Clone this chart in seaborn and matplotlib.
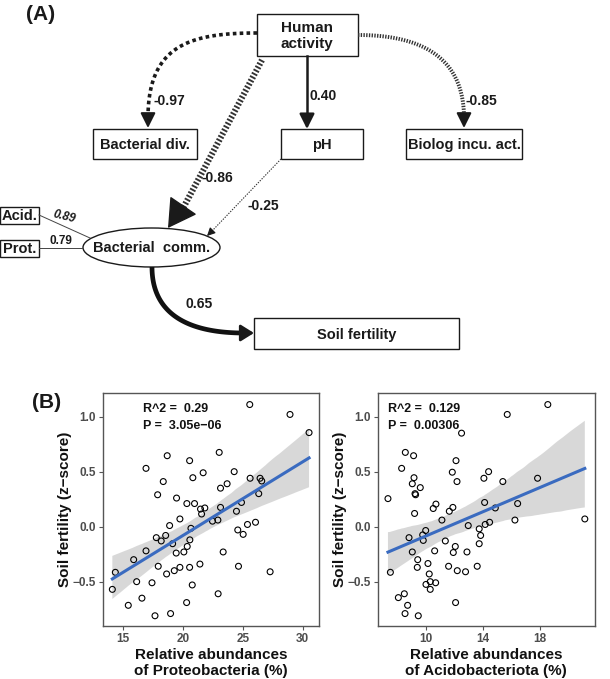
import numpy as np
import pandas as pd
import matplotlib
matplotlib.use("Agg")
import matplotlib.pyplot as plt
import seaborn as sns
from matplotlib.patches import Rectangle, Ellipse

# ---- data ----
# panel B left: Proteobacteria (%) vs soil fertility
prot_x = [14.11, 14.36, 15.44, 15.89, 16.14, 16.58, 16.92, 16.92, 17.42, 17.67,
          17.78, 17.89, 17.94, 18.19, 18.36, 18.56, 18.64, 18.69, 18.89, 18.97,
          19.14, 19.28, 19.44, 19.47, 19.75, 19.75, 20.08, 20.31, 20.33, 20.36,
          20.56, 20.56, 20.58, 20.67, 20.78, 20.83, 20.97, 21.42, 21.47, 21.56,
          21.69, 21.83, 22.47, 22.92, 22.94, 23.03, 23.14, 23.14, 23.36, 23.69,
          24.28, 24.47, 24.58, 24.64, 24.89, 25.03, 25.39, 25.58, 25.61, 26.06,
          26.33, 26.44, 26.58, 27.28, 28.94, 30.53]
prot_y = [-0.57, -0.415, -0.715, -0.30, -0.50, -0.65, 0.53, -0.22, -0.51, -0.81,
          -0.10, 0.29, -0.36, -0.13, 0.41, -0.08, -0.43, 0.645, 0.01, -0.79,
          -0.155, -0.40, -0.24, 0.26, -0.37, 0.07, -0.23, -0.69, 0.21, -0.18,
          0.60, -0.37, -0.12, -0.015, -0.53, 0.445, 0.21, -0.34, 0.16, 0.115,
          0.49, 0.17, 0.05, 0.06, -0.61, 0.675, 0.35, 0.175, -0.23, 0.39,
          0.50, 0.14, -0.03, -0.36, 0.22, -0.07, 0.02, 1.11, 0.44, 0.04,
          0.30, 0.44, 0.415, -0.41, 1.02, 0.855]

# panel B right: Acidobacteriota (%) vs soil fertility
acid_x = [7.33, 7.50, 8.06, 8.29, 8.48, 8.53, 8.55, 8.71, 8.81, 9.04,
          9.13, 9.16, 9.04, 9.20, 9.23, 9.27, 9.42, 9.39, 9.46, 9.60,
          9.77, 9.81, 9.98, 10.00, 10.14, 10.23, 10.30, 10.30, 10.51, 10.61,
          10.68, 10.70, 11.12, 11.36, 11.59, 11.64, 11.85, 11.89, 11.92, 12.06,
          12.08, 12.11, 12.18, 12.20, 12.50, 12.78, 12.88, 12.97, 13.60, 13.74,
          13.74, 13.84, 14.07, 14.12, 14.16, 14.40, 14.47, 14.87, 15.40, 15.71,
          16.25, 16.44, 17.84, 18.56, 21.16]
acid_y = [0.255, -0.415, -0.645, 0.53, -0.61, -0.79, 0.675, -0.715, -0.10, -0.23,
          0.645, 0.445, 0.39, 0.12, 0.30, 0.29, -0.30, -0.37, -0.81, 0.355,
          -0.075, -0.125, -0.035, -0.525, -0.335, -0.43, -0.50, -0.57, 0.165, -0.22,
          -0.51, 0.205, 0.06, -0.13, -0.36, 0.14, 0.495, 0.175, -0.235, -0.18,
          -0.69, 0.60, 0.41, -0.40, 0.85, -0.41, -0.23, 0.01, -0.36, -0.155,
          -0.02, -0.08, 0.44, 0.22, 0.02, 0.50, 0.04, 0.17, 0.41, 1.02,
          0.06, 0.21, 0.44, 1.11, 0.07]

stats_text = ["R^2 =  0.29\nP =  3.05e\u221206", "R^2 =  0.129\nP =  0.00306"]

# panel A: path coefficients
coef_labels = {"hum_div": "-0.97", "hum_ph": "0.40", "hum_bio": "-0.85",
               "hum_comm": "-0.86", "ph_comm": "-0.25", "acid": "0.89",
               "prot": "0.79", "comm_soil": "0.65"}

# ---- figure ----
W, H = 610, 679
fig = plt.figure(figsize=(W / 100, H / 100), dpi=100)
FONT = ["Liberation Sans", "DejaVu Sans"]
INK = "#1a1a1a"

# ---------------- panel A (diagram, pixel coords) ----------------
axA = fig.add_axes([0, 1 - 360 / H, 1, 360 / H])
axA.set_xlim(0, W)
axA.set_ylim(360, 0)
axA.axis("off")

# boxes: (cx, cy, w, h, label)
boxes = {
    "hum": (307, 35, 101, 42, "Human\nactivity"),
    "div": (145, 144, 104, 30, "Bacterial div."),
    "ph": (322, 144, 82, 30, "pH"),
    "bio": (464, 144, 116, 30, "Biolog incu. act."),
    "acid": (19.5, 215.5, 39, 17, "Acid."),
    "prot": (19.5, 248, 39, 17, "Prot."),
    "soil": (356.5, 333.5, 205, 31, "Soil fertility"),
}
for key, (cx, cy, w, h, lab) in boxes.items():
    axA.add_patch(Rectangle((cx - w / 2, cy - h / 2), w, h, fill=False,
                            lw=1.0, ec=INK))
    axA.text(cx, cy + 1, lab, ha="center", va="center",
             fontsize=11 if key == "hum" else 10.5,
             fontweight="bold", family=FONT, linespacing=1.1, color=INK)

axA.add_patch(Ellipse((151.5, 247.5), 137, 39, fill=False, lw=1.0, ec=INK))
axA.text(151.5, 248.5, "Bacterial  comm.", ha="center", va="center", fontsize=10.5,
         fontweight="bold", family=FONT, color=INK)


def bezier(p0, p1, p2, p3, n=80):
    t = np.linspace(0, 1, n)[:, None]
    p0, p1, p2, p3 = map(np.asarray, (p0, p1, p2, p3))
    return ((1 - t) ** 3) * p0 + 3 * ((1 - t) ** 2) * t * p1 + 3 * (1 - t) * t ** 2 * p2 + t ** 3 * p3


def head(end, start, lw=1, hl=0.9, hw=0.45, ms=10):
    axA.annotate("", xy=end, xytext=start,
                 arrowprops=dict(arrowstyle=f"-|>,head_length={hl},head_width={hw}",
                                 color=INK, lw=lw, mutation_scale=ms,
                                 shrinkA=0, shrinkB=0))


# Human -> Bacterial div. (dotted curve)
c = bezier((257, 33), (190, 33), (148, 45), (148, 118))
axA.plot(c[:, 0], c[:, 1], color=INK, lw=2.6, ls=(0, (1.0, 0.9)))
head((148, 128), (148, 118), lw=1.5)

# Human -> Biolog (hatched curve)
c = bezier((358, 35), (425, 35), (464, 60), (464, 118))
axA.plot(c[:, 0], c[:, 1], color="#333333", lw=2.8, ls=(0, (0.35, 0.35)))
head((464, 128), (464, 118), lw=1.5)

# Human -> pH (solid)
axA.plot([307, 307], [56, 118], color=INK, lw=1.8)
head((307, 129), (307, 118), lw=1.8)

# Human -> Bacterial comm. (thick hatched, big head)
axA.plot([262, 181], [60, 212], color="#333333", lw=4.5, ls=(0, (0.3, 0.3)))
head((168, 228), (183, 206), lw=1, hl=1.3, hw=0.75, ms=14)

# pH -> Bacterial comm. (thin dotted)
axA.plot([281, 212], [159, 231], color="#333333", lw=0.8, ls=(0, (1.2, 1.2)))
head((207, 236), (212, 231), lw=0.8, hl=0.6, hw=0.3, ms=8)

# Acid., Prot. -> Bacterial comm.
axA.plot([39, 90], [215, 238], color="#444444", lw=0.7)
axA.plot([39, 83], [248, 248], color="#444444", lw=0.7)

# Bacterial comm. -> Soil fertility (thick curve)
c = bezier((152, 267), (152, 312), (185, 333), (244, 333))
axA.plot(c[:, 0], c[:, 1], color="#111111", lw=3.4, solid_capstyle="butt")
head((254, 333), (243, 333), lw=2, hl=0.8, hw=0.5, ms=10)

# coefficients
lab_pos = {"hum_div": (153, 101), "hum_ph": (310, 96), "hum_bio": (465, 101),
           "hum_comm": (202, 178), "ph_comm": (248, 206), "prot": (49, 241),
           "comm_soil": (186, 304)}
for key, (x, y) in lab_pos.items():
    axA.text(x, y, coef_labels[key], ha="left", va="center",
             fontsize=8.5 if key == "prot" else 10,
             fontweight="bold", family=FONT, color=INK)
axA.text(52, 217, coef_labels["acid"], ha="left", va="center", fontsize=8.5,
         fontweight="bold", style="italic", rotation=-14, family=FONT, color=INK)

axA.text(26, 14, "(A)", ha="left", va="center", fontsize=15, fontweight="bold",
         family=FONT, color=INK)

# ---------------- panel B (scatter + regression) ----------------
fig.text(32 / W, 1 - 402 / H, "(B)", ha="left", va="center", fontsize=15,
         fontweight="bold", family=FONT, color=INK)

panels = [
    (pd.DataFrame({"x": prot_x, "y": prot_y}), [103, 393, 216, 233],
     (13.33, 31.36), [15, 20, 25, 30], "Relative abundances\nof Proteobacteria (%)", 0.185),
    (pd.DataFrame({"x": acid_x, "y": acid_y}), [378, 393, 216.5, 233],
     (6.63, 21.84), [10, 14, 18], "Relative abundances\nof Acidobacteriota (%)", 0.046),
]

for i, (df, (px, py, pw, ph), xlim, xt, xlab, tx) in enumerate(panels):
    ax = fig.add_axes([px / W, 1 - (py + ph) / H, pw / W, ph / H])
    sns.regplot(data=df, x="x", y="y", ax=ax, ci=95, color="#3a6bc0",
                marker="o",
                scatter_kws=dict(facecolors="none", edgecolors="black", s=18,
                                 linewidths=0.8, alpha=1, zorder=3),
                line_kws=dict(lw=2.2, zorder=4))
    for coll in ax.collections:
        if isinstance(coll, matplotlib.collections.PolyCollection):
            coll.set_facecolor("#c4c4c4")
            coll.set_alpha(0.65)
            coll.set_zorder(1)
    ax.set_xlim(*xlim)
    ax.set_ylim(-0.903, 1.215)
    ax.set_xticks(xt)
    ax.set_yticks([-0.5, 0.0, 0.5, 1.0])
    ax.set_yticklabels(["\u22120.5", "0.0", "0.5", "1.0"])
    for s in ax.spines.values():
        s.set_color("#555555")
        s.set_linewidth(1.0)
    ax.tick_params(axis="both", colors="#555555", labelcolor="#4d4d4d",
                   labelsize=8.5, length=3, width=0.8, pad=2)
    for t in ax.get_xticklabels() + ax.get_yticklabels():
        t.set_fontweight("bold")
        t.set_family(FONT)
    ax.set_xlabel(xlab, fontsize=11, fontweight="bold", family=FONT,
                  color="#111111", labelpad=2, linespacing=1.22)
    ax.set_ylabel("Soil fertility (z\u2212score)", fontsize=11, fontweight="bold",
                  family=FONT, color="#111111", labelpad=0.5)
    ax.text(tx, 0.955, stats_text[i], transform=ax.transAxes,
            ha="left", va="top", fontsize=9, fontweight="bold", family=FONT,
            color="#111111", linespacing=1.45)

fig.savefig("out.png", dpi=100)
